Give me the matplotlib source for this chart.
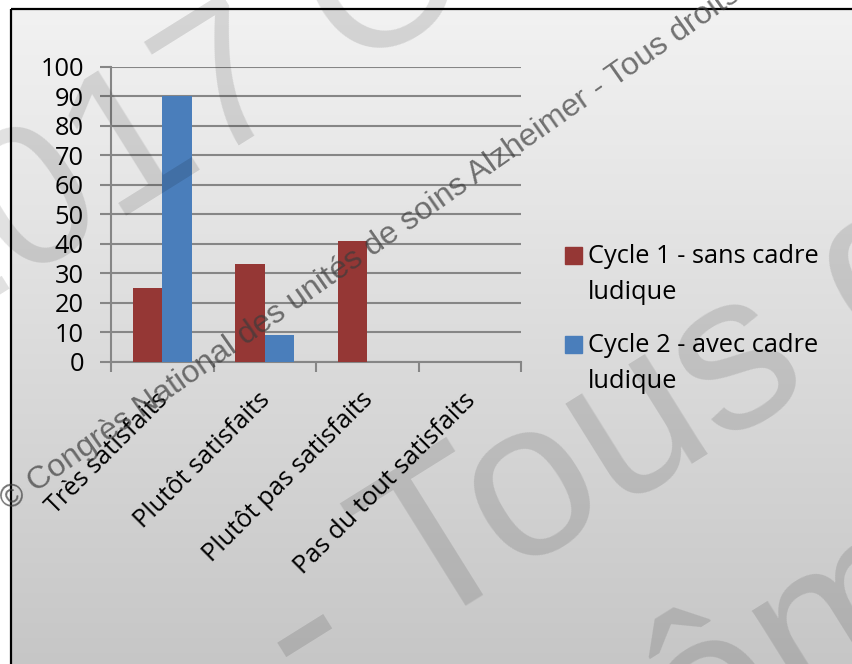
import numpy as np
import matplotlib
matplotlib.use("Agg")
import matplotlib.pyplot as plt
from matplotlib.patches import Rectangle
from matplotlib.colors import LinearSegmentedColormap
from matplotlib.transforms import ScaledTranslation

# données du questionnaire de satisfaction
categories = ["Très satisfaits", "Plutôt satisfaits", "Plutôt pas satisfaits", "Pas du tout satisfaits"]
cycle1 = [25, 33, 41, 0]
cycle2 = [90, 9, 0, 0]
noms_series = ["Cycle 1 - sans cadre\nludique", "Cycle 2 - avec cadre\nludique"]
couleurs = ["#953735", "#4a7ebb"]
graduations = list(range(0, 101, 10))

plt.rcParams['font.family'] = ['Open Sans', 'DejaVu Sans']
taille = 18.3

W, H = 852, 664
fig = plt.figure(figsize=(W / 100, H / 100), dpi=100)
fig.patch.set_facecolor('white')

# fond dégradé et cadre noir (repère en pixels)
fond = fig.add_axes([0, 0, 1, 1], zorder=0)
degrade = np.linspace(0, 1, 256).reshape(-1, 1)
cmap = LinearSegmentedColormap.from_list('fond', ['#f2f2f2', '#c6c6c6'])
fond.imshow(degrade, cmap=cmap, extent=(11, W + 5, H + 5, 9), aspect='auto')
fond.add_patch(Rectangle((11, 9), W, H, fill=False, ec='black', lw=1.6))
fond.set_xlim(0, W)
fond.set_ylim(H, 0)
fond.axis('off')

# histogramme
ax = fig.add_axes([111 / W, 1 - 361.7 / H, 410 / W, 295 / H], zorder=1)
ax.patch.set_alpha(0)
x = np.arange(len(categories))
lb = 0.288
ax.bar(x - lb / 2, cycle1, lb, color=couleurs[0], zorder=3)
ax.bar(x + lb / 2, cycle2, lb, color=couleurs[1], zorder=3)
ax.set_xlim(-0.5, len(categories) - 0.5)
ax.set_ylim(0, 100)
ax.set_yticks(graduations)
ax.yaxis.grid(True, color='#868686', lw=1.5)
ax.set_axisbelow(True)
for s in ['top', 'right']:
    ax.spines[s].set_visible(False)
for s in ['left', 'bottom']:
    ax.spines[s].set_color('#868686')
    ax.spines[s].set_linewidth(1.5)
ax.tick_params(axis='y', length=8, width=1.5, color='#868686', pad=11.5, labelsize=taille)

ax.set_xticks(x)
ax.set_xticklabels(categories, rotation=45, ha='right', va='center', rotation_mode='anchor')
ax.set_xticks(np.arange(-0.5, len(categories), 1), minor=True)
ax.tick_params(axis='x', which='major', length=0, pad=25, labelsize=taille)
ax.tick_params(axis='x', which='minor', length=7, width=1.5, color='#868686')
for lab in ax.get_xticklabels():
    lab.set_transform(lab.get_transform() + ScaledTranslation(2 / 100, 0, fig.dpi_scale_trans))

# légende
for i, (nom, c) in enumerate(zip(noms_series, couleurs)):
    y0 = 247 + i * 89
    fond.add_patch(Rectangle((565, y0), 17, 17, color=c))
    for j, ligne in enumerate(nom.split('\n')):
        fond.text(588, y0 + 16 + j * 36, ligne, fontsize=taille, ha='left', va='baseline')

# filigrane
filig = fig.add_axes([0, 0, 1, 1], zorder=5)
filig.set_xlim(0, W)
filig.set_ylim(H, 0)
filig.axis('off')
filig.text(8.7, 511, "© Congrès National des unités de soins Alzheimer - Tous droits réservés",
           rotation=35, rotation_mode='anchor', ha='left', va='baseline',
           fontsize=23, family='Liberation Sans', color='#3c3c3c', alpha=0.7)
grand = dict(rotation=32, rotation_mode='anchor', ha='left', va='baseline',
             family='Liberation Sans', color='black', alpha=0.12)
filig.text(-76, 342, "2017 Congrès", fontsize=145, **grand)
filig.text(305, 705, "- Tous droits", fontsize=160, **grand)
filig.text(538, 874, "même", fontsize=160, **grand)

fig.savefig('out.png', dpi=100)
